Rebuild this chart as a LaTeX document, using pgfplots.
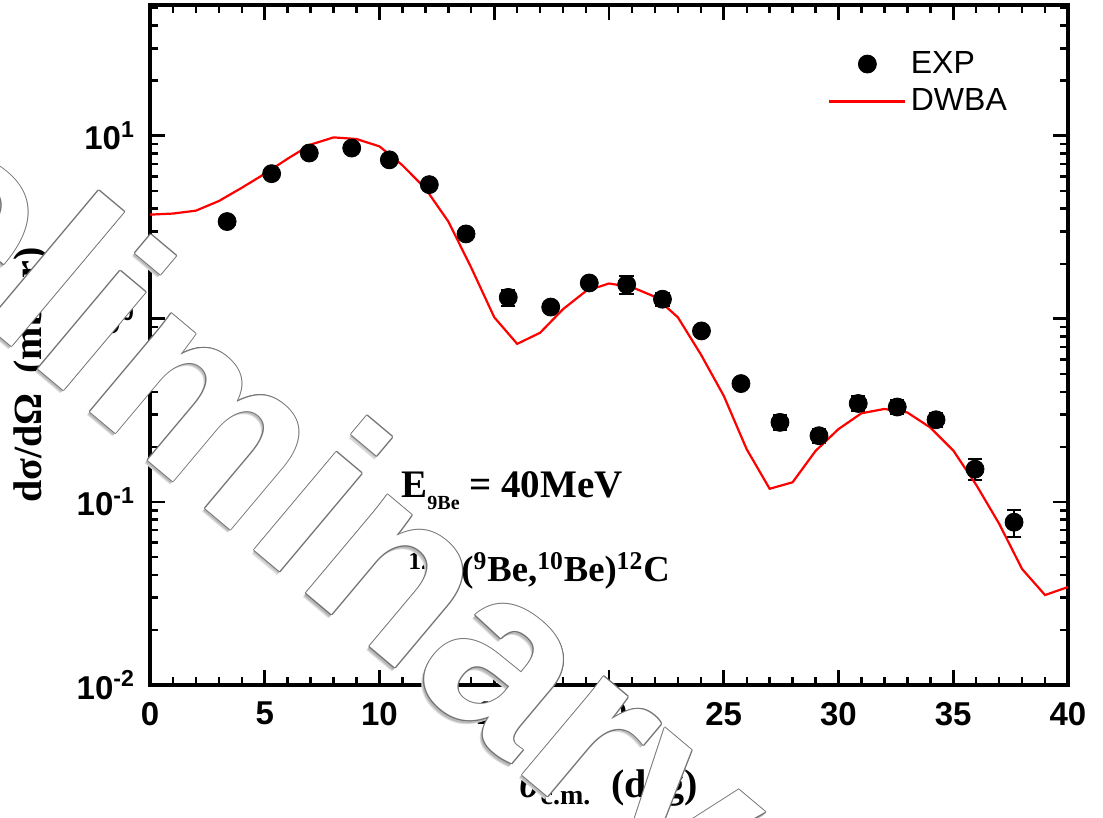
\documentclass[border=0pt]{standalone}
\usepackage{pgfplots}
\pgfplotsset{compat=1.18}
\usetikzlibrary{calc}
\usepackage{fontspec}
\setmainfont{Liberation Serif}
\newfontfamily\arial{Liberation Sans}

\pgfplotsset{
  mylineleg/.style={legend image code/.code={\draw[##1, line width=1.5pt] (0pt,0pt) -- (38pt,0pt);}},
  mymarkleg/.style={legend image code/.code={\draw[mark repeat=2,mark phase=2,##1] plot coordinates {(0pt,0pt) (19pt,0pt) (38pt,0pt)};}},
}

\pgfplotstableread{
x y ey
3.36 3.40 0.08
5.30 6.21 0.15
6.94 8.05 0.2
8.79 8.57 0.2
10.43 7.39 0.18
12.17 5.41 0.13
13.77 2.91 0.07
15.61 1.31 0.13
17.46 1.16 0.07
19.14 1.57 0.09
20.77 1.54 0.18
22.33 1.28 0.10
24.03 0.859 0.05
25.75 0.443 0.03
27.45 0.272 0.025
29.15 0.230 0.02
30.86 0.345 0.032
32.56 0.330 0.029
34.25 0.281 0.025
35.95 0.151 0.02
37.65 0.0775 0.013
}\expdata

\pgfplotstableread{
x y
0 3.71
1 3.76
2 3.90
3 4.40
4 5.20
5 6.20
6 7.50
7 8.95
8 9.80
9 9.60
10 8.75
11 6.90
12 5.15
13 3.40
14 1.90
15 1.02
16 0.73
17 0.84
18 1.13
19 1.42
20 1.56
21 1.49
22 1.32
23 1.02
24 0.64
25 0.38
26 0.194
27 0.118
28 0.128
29 0.190
30 0.250
31 0.305
32 0.322
33 0.308
34 0.255
35 0.191
36 0.124
37 0.076
38 0.043
39 0.031
40 0.0343
}\dwba

\begin{document}
\begin{tikzpicture}
\begin{axis}[
  at={(0pt,0pt)}, anchor=south west,
  scale only axis, width=459pt, height=340pt,
  xmin=0, xmax=40, ymode=log, ymin=0.01, ymax=51.8,
  xtick={0,5,...,40}, xticklabels={0,5,10,15,20,25,30,35,40},
  minor x tick num=4,
  ytick={0.01,0.1,1,10},
  yticklabels={10\textsuperscript{-2},10\textsuperscript{-1},10\textsuperscript{0},10\textsuperscript{1}},
  minor ytick={0.02,0.03,0.04,0.05,0.06,0.07,0.08,0.09,0.2,0.3,0.4,0.5,0.6,0.7,0.8,0.9,2,3,4,5,6,7,8,9,20,30,40,50},
  tick align=inside,
  major tick length=7.5pt, minor tick length=4pt,
  major tick style={black, line width=1.4pt},
  minor tick style={black, line width=1.2pt},
  axis line style={line width=2pt},
  ticklabel style={font=\arial\bfseries\fontsize{16.5}{19}\selectfont},
  xticklabel shift=5pt,
  yticklabel shift=4pt,
  xlabel={\fontsize{20}{24}\selectfont\bfseries\itshape θ\textsubscript{\upshape c.m.}\upshape\ \ (deg)},
  xlabel style={at={(axis description cs:0.5,-0.166)}, anchor=base},
  ylabel={\fontsize{20}{24}\selectfont\bfseries dσ/dΩ\ \ (mb/sr)},
  ylabel style={at={(axis description cs:-0.1285,0.456)}, anchor=center},
  legend style={draw=none, fill=none, at={(axis description cs:0.738,0.938)}, anchor=north west,
    inner sep=0pt, font=\arial\fontsize{16}{18}\selectfont, row sep=2pt},
  legend cell align=left,
]
\addplot[only marks, mark=*, mark size=4.5pt, black, mymarkleg,
  error bars/.cd, y dir=both, y explicit,
  error bar style={line width=1pt, black},
  error mark options={rotate=90, mark size=3.6pt, line width=1pt}]
  table[x=x, y=y, y error=ey] {\expdata};
\addlegendentry{EXP}
\addplot[red, line width=1.1pt, mylineleg]
  table[x=x, y=y] {\dwba};
\addlegendentry{DWBA}
\end{axis}

% annotations
\node[anchor=base west, inner sep=0pt, font=\bfseries\fontsize{19.5}{22}\selectfont] at (125.5pt,93.5pt)
  {E\raisebox{-6pt}{\fontsize{10}{12}\selectfont 9Be} = 40MeV};
\node[anchor=base west, inner sep=0pt, font=\bfseries\fontsize{18.3}{22}\selectfont] at (129pt,51.5pt)
  {\textsuperscript{12}C(\textsuperscript{9}Be,\textsuperscript{10}Be)\textsuperscript{12}C};

% watermark
\coordinate (wm) at (-62.4pt,163.6pt);
\begin{scope}[every node/.style={inner sep=0pt, rotate=-40, font=\arial\bfseries\fontsize{121}{136}\selectfont}]
\foreach \dx/\dy/\c in {-1.4pt/-1.8pt/black!15, -0.9pt/-1.2pt/black!28}{
  \node[anchor=base east, text=\c] at ($(wm)+(\dx,\dy)$) {Prel};
  \node[anchor=base west, text=\c] at ($(wm)+(\dx,\dy)$) {iminary};
}
\foreach \dx/\dy in {0.5pt/0pt, -0.5pt/0pt, 0pt/0.5pt, 0pt/-0.5pt, 0.35pt/0.35pt, -0.35pt/0.35pt, 0.35pt/-0.35pt, -0.35pt/-0.35pt}{
  \node[anchor=base east, text=black!55] at ($(wm)+(\dx,\dy)$) {Prel};
  \node[anchor=base west, text=black!55] at ($(wm)+(\dx,\dy)$) {iminary};
}
\node[anchor=base east, text=white] at (wm) {Prel};
\node[anchor=base west, text=white] at (wm) {iminary};
\end{scope}

\pgfresetboundingbox
\useasboundingbox (-75pt,-66.5pt) rectangle (476.5pt,342.5pt);
\end{tikzpicture}
\end{document}
